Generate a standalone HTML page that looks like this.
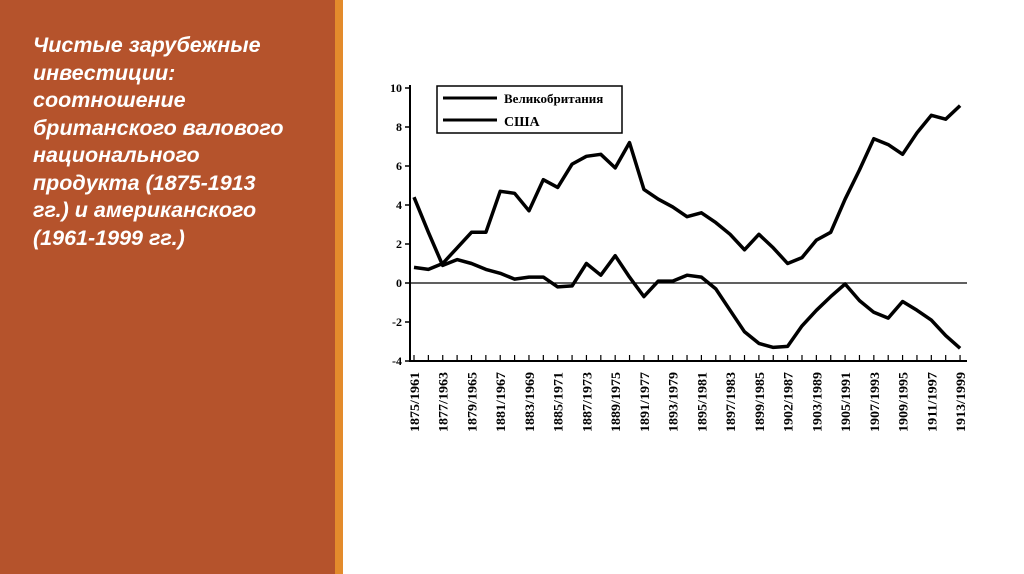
<!DOCTYPE html>
<html><head><meta charset="utf-8"><style>
body{margin:0;width:1024px;height:574px;background:#fff;overflow:hidden;position:relative;font-family:"Liberation Sans",sans-serif}
#left{position:absolute;left:0;top:0;width:335px;height:574px;background:#B5532C}
#stripe{position:absolute;left:335px;top:0;width:8px;height:574px;background:#E38B2C}
#txt{position:absolute;left:33px;top:32px;white-space:nowrap;color:#fff;font-style:italic;font-weight:bold;font-size:21.5px;line-height:27.5px}
svg{position:absolute;left:0;top:0}
</style></head><body>
<div id="left"></div><div id="stripe"></div>
<div id="txt">Чистые зарубежные<br>инвестиции:<br>соотношение<br>британского валового<br>национального<br>продукта (1875-1913<br>гг.) и американского<br>(1961-1999 гг.)</div>
<svg width="1024" height="574" id="s"></svg>
<script>
const uk=[0.8,0.7,1.0,1.8,2.6,2.6,4.7,4.6,3.7,5.3,4.9,6.1,6.5,6.6,5.9,7.2,4.8,4.3,3.9,3.4,3.6,3.1,2.5,1.7,2.5,1.8,1.0,1.3,2.2,2.6,4.3,5.8,7.4,7.1,6.6,7.7,8.6,8.4,9.1];
const us=[4.4,2.6,0.9,1.2,1.0,0.7,0.5,0.2,0.3,0.3,-0.2,-0.15,1.0,0.4,1.4,0.3,-0.7,0.1,0.1,0.4,0.3,-0.3,-1.4,-2.5,-3.1,-3.3,-3.25,-2.2,-1.4,-0.7,-0.05,-0.9,-1.5,-1.8,-0.95,-1.4,-1.9,-2.7,-3.35];
const X=i=>414+i*14.37, Y=v=>283-v*19.5;
let h='';
const pts=a=>a.map((v,i)=>X(i).toFixed(1)+','+Y(v).toFixed(1)).join(' ');
h+='<line x1="410" y1="85" x2="410" y2="362" stroke="#000" stroke-width="2"/>';
h+='<line x1="410" y1="361" x2="967" y2="361" stroke="#000" stroke-width="2"/>';
h+='<line x1="410" y1="283" x2="967" y2="283" stroke="#000" stroke-width="1.2"/>';
for(let v=-4;v<=10;v+=2){h+=`<line x1="405" y1="${Y(v)}" x2="410" y2="${Y(v)}" stroke="#000" stroke-width="1.5"/>`;
h+=`<text x="402" y="${Y(v)+4}" text-anchor="end" font-family="Liberation Serif" font-weight="bold" font-size="12">${v<0?'-'+(-v):v}</text>`;}
for(let i=0;i<39;i++)h+=`<line x1="${X(i)}" y1="355" x2="${X(i)}" y2="361" stroke="#000" stroke-width="1.2"/>`;
const labs=['1875/1961','1877/1963','1879/1965','1881/1967','1883/1969','1885/1971','1887/1973','1889/1975','1891/1977','1893/1979','1895/1981','1897/1983','1899/1985','1902/1987','1903/1989','1905/1991','1907/1993','1909/1995','1911/1997','1913/1999'];
labs.forEach((l,k)=>{const x=X(k*2)+5;h+=`<text transform="translate(${x},432) rotate(-90)" font-family="Liberation Serif" font-weight="bold" font-size="12.5" textLength="60" lengthAdjust="spacingAndGlyphs">${l}</text>`;});
h+=`<polyline points="${pts(uk)}" fill="none" stroke="#000" stroke-width="3.5" stroke-linejoin="round"/>`;
h+=`<polyline points="${pts(us)}" fill="none" stroke="#000" stroke-width="3.5" stroke-linejoin="round"/>`;
h+='<rect x="437" y="86" width="185" height="47" fill="#fff" stroke="#000" stroke-width="1.5"/>';
h+='<line x1="443" y1="98" x2="497" y2="98" stroke="#000" stroke-width="3"/><line x1="443" y1="120" x2="497" y2="120" stroke="#000" stroke-width="3"/>';
h+='<text x="504" y="103" font-family="Liberation Serif" font-weight="bold" font-size="13">Великобритания</text>';
h+='<text x="504" y="126" font-family="Liberation Serif" font-weight="bold" font-size="14">США</text>';
document.getElementById('s').innerHTML=h;
</script>
</body></html>
